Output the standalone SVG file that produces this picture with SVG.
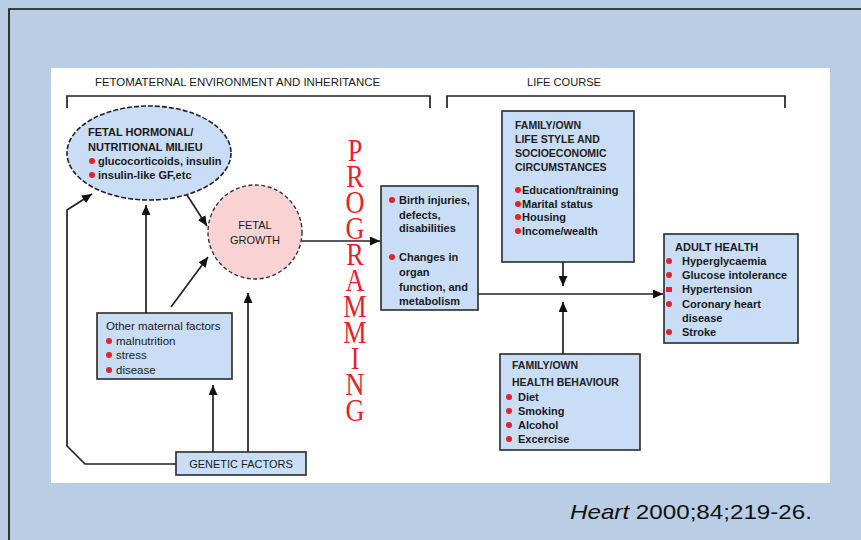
<svg xmlns="http://www.w3.org/2000/svg" width="861" height="540" viewBox="0 0 861 540">
<defs>
<style>
.bg{fill:#B9CDE5}
.frame{fill:none;stroke:#111;stroke-width:1.6}
.panel{fill:#fff}
.box{fill:#C9DDF6;stroke:#2a2a2a;stroke-width:1.6}
.hdr{font-family:"Liberation Sans",Arial,sans-serif;font-size:11px;fill:#1a1a1a}
.t{font-family:"Liberation Sans",Arial,sans-serif;font-size:11px;font-weight:bold;fill:#1a1a1a}
.tn{font-family:"Liberation Sans",Arial,sans-serif;font-size:11.5px;fill:#1a1a1a}
.bh{font-family:"Liberation Sans",Arial,sans-serif;font-size:10.5px;font-weight:bold;fill:#222}
.dot{fill:#E8202A}
.ln{fill:none;stroke:#222;stroke-width:1.7}
.prog{font-family:"Liberation Serif","Times New Roman",serif;font-size:32px;fill:#E8202A;writing-mode:vertical-rl;text-orientation:upright;letter-spacing:-9px}
.cite{font-family:"Liberation Sans",Arial,sans-serif;font-size:21px;fill:#111}
</style>
<marker id="ah" markerUnits="userSpaceOnUse" markerWidth="11" markerHeight="10" refX="10" refY="4.5" orient="auto">
<path d="M0,0 L10,4.5 L0,9 Z" fill="#111"/>
</marker>
</defs>
<rect class="bg" x="0" y="0" width="861" height="540"/>
<path class="frame" d="M9,540 V9 H861"/>
<rect class="panel" x="51" y="68" width="779" height="415"/>

<g id="headers">
<text class="hdr" x="95" y="86" textLength="285" lengthAdjust="spacingAndGlyphs">FETOMATERNAL ENVIRONMENT AND INHERITANCE</text>
<text class="hdr" x="527" y="86" textLength="74" lengthAdjust="spacingAndGlyphs">LIFE COURSE</text>
<path class="ln" d="M67,108 V96 H430 V108"/>
<path class="ln" d="M447,108 V96 H785 V108"/>
</g>

<g id="connectors">
<line class="ln" x1="187" y1="195" x2="207" y2="226" marker-end="url(#ah)"/>
<line class="ln" x1="146" y1="313" x2="146" y2="205" marker-end="url(#ah)"/>
<line class="ln" x1="171" y1="307" x2="208" y2="257" marker-end="url(#ah)"/>
<line class="ln" x1="213" y1="452" x2="213" y2="385" marker-end="url(#ah)"/>
<line class="ln" x1="248" y1="452" x2="248" y2="293" marker-end="url(#ah)"/>
<polyline class="ln" points="176,464 85,464 67,446 67,210 92,194" marker-end="url(#ah)"/>
<line class="ln" x1="302" y1="241" x2="380" y2="241" marker-end="url(#ah)"/>
<line class="ln" x1="478" y1="294" x2="663" y2="294" marker-end="url(#ah)"/>
<line class="ln" x1="563" y1="262" x2="563" y2="286" marker-end="url(#ah)"/>
<line class="ln" x1="563" y1="354" x2="563" y2="302" marker-end="url(#ah)"/>
</g>

<g id="hormonal">
<ellipse cx="149" cy="153" rx="82" ry="47" fill="#C9DDF6" stroke="#222" stroke-width="1.6" stroke-dasharray="5 2"/>
<text class="t" x="88" y="136">FETAL HORMONAL/</text>
<text class="t" x="88" y="151">NUTRITIONAL MILIEU</text>
<circle class="dot" cx="92" cy="161" r="3"/>
<text class="t" x="98" y="165">glucocorticoids, insulin</text>
<circle class="dot" cx="92" cy="175" r="3"/>
<text class="t" x="98" y="179">insulin-like GF,etc</text>
</g>

<g id="growth">
<circle cx="255" cy="232" r="47" fill="#F9D3D3" stroke="#333" stroke-width="1.4" stroke-dasharray="4 2.5"/>
<text class="hdr" x="255" y="229" text-anchor="middle">FETAL</text>
<text class="hdr" x="255" y="244" text-anchor="middle">GROWTH</text>
</g>

<g id="maternal">
<rect class="box" x="97" y="313" width="135" height="66"/>
<text class="tn" x="106" y="330">Other maternal factors</text>
<circle class="dot" cx="109" cy="341" r="3"/>
<text class="tn" x="116" y="345">malnutrition</text>
<circle class="dot" cx="109" cy="355" r="3"/>
<text class="tn" x="116" y="359">stress</text>
<circle class="dot" cx="109" cy="370" r="3"/>
<text class="tn" x="116" y="374">disease</text>
</g>

<g id="genetic">
<rect class="box" x="176" y="452" width="130" height="23"/>
<text class="hdr" x="241" y="468" text-anchor="middle">GENETIC FACTORS</text>
</g>

<g id="programming">
<g transform="translate(355,0) scale(0.82,1)">
<text class="prog" x="0" y="133">PROGRAMMING</text>
</g>
</g>

<g id="outcomes">
<rect class="box" x="381" y="186" width="97" height="124"/>
<circle class="dot" cx="392" cy="200" r="3"/>
<text class="t" x="399" y="204">Birth injuries,</text>
<text class="t" x="399" y="219">defects,</text>
<text class="t" x="399" y="232">disabilities</text>
<circle class="dot" cx="392" cy="257" r="3"/>
<text class="t" x="399" y="261">Changes in</text>
<text class="t" x="399" y="276">organ</text>
<text class="t" x="399" y="291">function, and</text>
<text class="t" x="399" y="305">metabolism</text>
</g>

<g id="lifestyle">
<rect class="box" x="502" y="111" width="132" height="151"/>
<text class="bh" x="515" y="129">FAMILY/OWN</text>
<text class="bh" x="515" y="143">LIFE STYLE AND</text>
<text class="bh" x="515" y="157">SOCIOECONOMIC</text>
<text class="bh" x="515" y="171">CIRCUMSTANCES</text>
<circle class="dot" cx="518" cy="190" r="3"/>
<text class="t" x="522" y="194">Education/training</text>
<circle class="dot" cx="518" cy="204" r="3"/>
<text class="t" x="522" y="208">Marital status</text>
<circle class="dot" cx="518" cy="217" r="3"/>
<text class="t" x="522" y="221">Housing</text>
<circle class="dot" cx="518" cy="231" r="3"/>
<text class="t" x="522" y="235">Income/wealth</text>
</g>

<g id="behaviour">
<rect class="box" x="500" y="354" width="140" height="96"/>
<text class="bh" x="512" y="369">FAMILY/OWN</text>
<text class="bh" x="512" y="386">HEALTH BEHAVIOUR</text>
<circle class="dot" cx="509" cy="397" r="3"/>
<text class="t" x="518" y="401">Diet</text>
<circle class="dot" cx="509" cy="411" r="3"/>
<text class="t" x="518" y="415">Smoking</text>
<circle class="dot" cx="509" cy="425" r="3"/>
<text class="t" x="518" y="429">Alcohol</text>
<circle class="dot" cx="509" cy="439" r="3"/>
<text class="t" x="518" y="443">Excercise</text>
</g>

<g id="adult">
<rect class="box" x="664" y="234" width="134" height="109"/>
<text class="t" x="675" y="251">ADULT HEALTH</text>
<circle class="dot" cx="669" cy="261" r="3"/>
<text class="t" x="682" y="265">Hyperglycaemia</text>
<circle class="dot" cx="669" cy="275" r="3"/>
<text class="t" x="682" y="279">Glucose intolerance</text>
<rect class="dot" x="666" y="287" width="6" height="5"/>
<text class="t" x="682" y="293">Hypertension</text>
<circle class="dot" cx="669" cy="304" r="3"/>
<text class="t" x="682" y="308">Coronary heart</text>
<text class="t" x="682" y="322">disease</text>
<circle class="dot" cx="669" cy="332" r="3"/>
<text class="t" x="682" y="336">Stroke</text>
</g>

<g id="citation">
<text class="cite" x="570" y="519" textLength="242" lengthAdjust="spacingAndGlyphs"><tspan font-style="italic">Heart</tspan> 2000;84;219-26.</text>
</g>
</svg>
